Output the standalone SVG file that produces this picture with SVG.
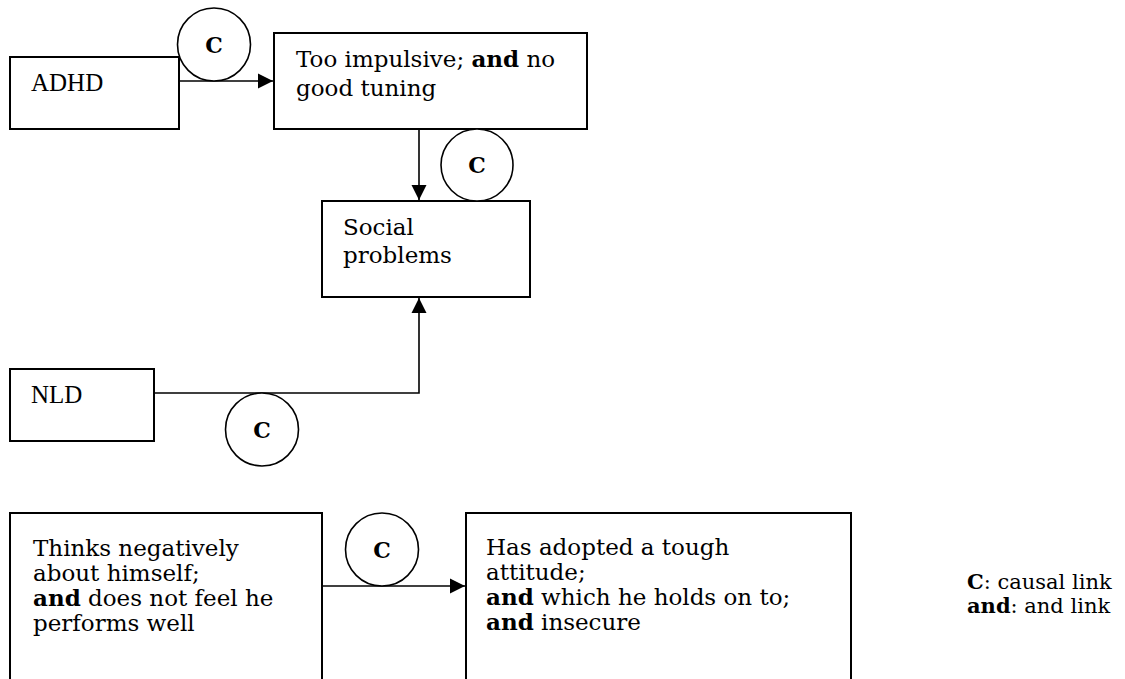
<svg xmlns="http://www.w3.org/2000/svg" width="1125" height="679" viewBox="0 0 1125 679">
<style>
.box{fill:#fff;stroke:#000;stroke-width:2}
.ln{fill:none;stroke:#000;stroke-width:1.6}
.cir{fill:#fff;stroke:#000;stroke-width:1.6}
.t{font-family:"Liberation Serif","Times New Roman",serif;fill:#000}
.l{font-family:"DejaVu Serif",serif;fill:#000}
.b{font-weight:bold}
.cl{font-family:"DejaVu Serif",serif;font-weight:bold;font-size:22px;text-anchor:middle;fill:#000}
</style>
<defs>
<marker id="arr" markerUnits="userSpaceOnUse" markerWidth="16" markerHeight="16" refX="15" refY="8" orient="auto">
<path d="M0,0.5 L15,8 L0,15.5 Z" fill="#000"/>
</marker>
</defs>
<rect width="1125" height="679" fill="#fff"/>
<g id="connectors">
<path class="ln" d="M179 81 H273" marker-end="url(#arr)"/>
<path class="ln" d="M419 129 V200" marker-end="url(#arr)"/>
<path class="ln" d="M154 393 H419 V298" marker-end="url(#arr)"/>
<path class="ln" d="M322 586 H465" marker-end="url(#arr)"/>
</g>
<g id="adhd">
<rect class="box" x="10" y="57" width="169" height="72"/>
<text class="t" x="31" y="91" font-size="25">ADHD</text>
</g>
<g id="impulsive">
<rect class="box" x="274" y="33" width="313" height="96"/>
<text class="l" x="296" y="67" font-size="23">Too impulsive; <tspan class="b">and</tspan> no</text>
<text class="l" x="296" y="96" font-size="23">good tuning</text>
</g>
<g id="social">
<rect class="box" x="322" y="201" width="208" height="96"/>
<text class="l" x="343" y="235" font-size="23">Social</text>
<text class="l" x="343" y="263" font-size="23">problems</text>
</g>
<g id="nld">
<rect class="box" x="10" y="369" width="144" height="72"/>
<text class="t" x="31" y="403" font-size="25">NLD</text>
</g>
<g id="thinks">
<rect class="box" x="10" y="513" width="312" height="180"/>
<text class="l" x="33" y="556" font-size="23">Thinks negatively</text>
<text class="l" x="33" y="581" font-size="23">about himself;</text>
<text class="l" x="33" y="606" font-size="23"><tspan class="b">and</tspan> does not feel he</text>
<text class="l" x="33" y="631" font-size="23">performs well</text>
</g>
<g id="tough">
<rect class="box" x="466" y="513" width="385" height="180"/>
<text class="l" x="486" y="555" font-size="23">Has adopted a tough</text>
<text class="l" x="486" y="580" font-size="23">attitude;</text>
<text class="l" x="486" y="605" font-size="23"><tspan class="b">and</tspan> which he holds on to;</text>
<text class="l" x="486" y="630" font-size="23"><tspan class="b">and</tspan> insecure</text>
</g>
<g id="c1">
<circle class="cir" cx="214" cy="44.5" r="36.5"/>
<text class="cl" x="214" y="52.5">C</text>
</g>
<g id="c2">
<circle class="cir" cx="477" cy="165" r="36"/>
<text class="cl" x="477" y="173">C</text>
</g>
<g id="c3">
<circle class="cir" cx="262" cy="429.5" r="36.5"/>
<text class="cl" x="262" y="437.5">C</text>
</g>
<g id="c4">
<circle class="cir" cx="382" cy="549.5" r="36.5"/>
<text class="cl" x="382" y="557.5">C</text>
</g>
<g id="legend">
<text class="l" x="967" y="589" font-size="21"><tspan class="b">C</tspan>: causal link</text>
<text class="l" x="967" y="613" font-size="21"><tspan class="b">and</tspan>: and link</text>
</g>
</svg>
